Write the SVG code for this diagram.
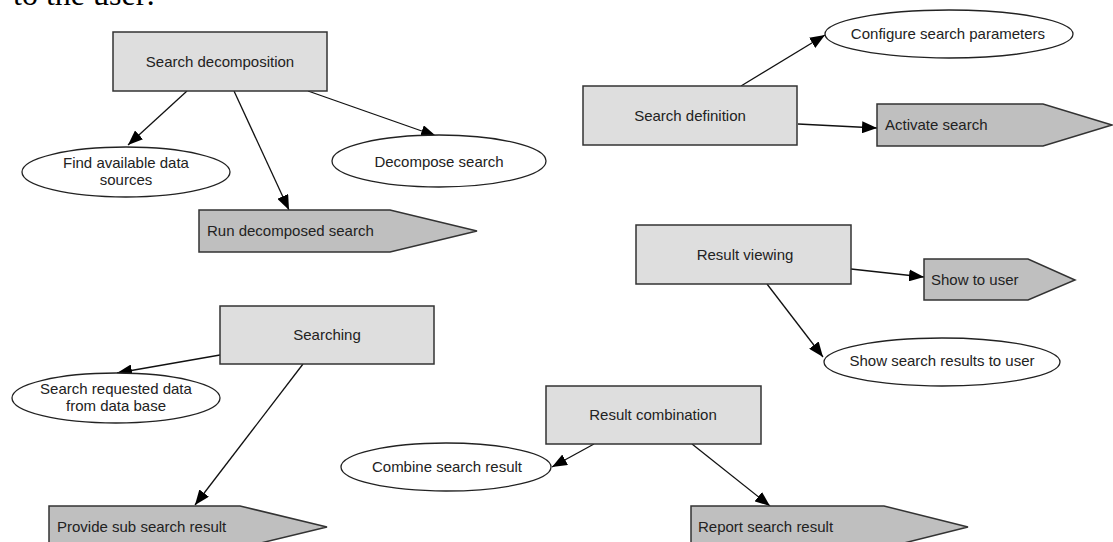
<svg xmlns="http://www.w3.org/2000/svg" width="1113" height="542" viewBox="0 0 1113 542">
  <style>
    .box { fill: #dedede; stroke: #333; stroke-width: 1.5; }
    .out { fill: #bfbfbf; stroke: #333; stroke-width: 1.5; }
    .ell { fill: #ffffff; stroke: #222; stroke-width: 1.3; }
    .lbl { font-family: "Liberation Sans", Arial, sans-serif; font-size: 15px; fill: #222; }
    .mid { text-anchor: middle; }
    .edge { stroke: #111; stroke-width: 1.3; fill: none; marker-end: url(#arrow); }
    .head { font-family: "Liberation Serif", "Times New Roman", serif; font-size: 32px; fill: #000; }
  </style>
  <defs>
    <marker id="arrow" markerUnits="userSpaceOnUse" markerWidth="16" markerHeight="12" refX="15" refY="6" orient="auto">
      <path d="M0,0 L15,6 L0,12 z" fill="#000"/>
    </marker>
  </defs>

  <rect width="1113" height="542" fill="#ffffff"/>

  <!-- running text of the surrounding page -->
  <text class="head" x="13" y="5">to the user:</text>

  <!-- connectors -->
  <g id="connectors">
    <line class="edge" x1="187" y1="91" x2="128" y2="145"/>
    <line class="edge" x1="234" y1="91" x2="289" y2="210"/>
    <line class="edge" x1="308" y1="91" x2="436" y2="136"/>
    <line class="edge" x1="741" y1="86" x2="825" y2="35"/>
    <line class="edge" x1="798" y1="124" x2="877" y2="128"/>
    <line class="edge" x1="851" y1="269" x2="924" y2="277"/>
    <line class="edge" x1="767" y1="284" x2="823" y2="357"/>
    <line class="edge" x1="220" y1="355" x2="117" y2="373"/>
    <line class="edge" x1="303" y1="364" x2="195" y2="505"/>
    <line class="edge" x1="594" y1="444" x2="552" y2="467"/>
    <line class="edge" x1="692" y1="444" x2="770" y2="506"/>
  </g>

  <!-- Search decomposition -->
  <g id="search-decomposition">
    <rect class="box" x="113" y="32" width="214" height="59"/>
    <text class="lbl mid" x="220" y="67">Search decomposition</text>
  </g>
  <g id="find-sources">
    <ellipse class="ell" cx="126" cy="172" rx="104" ry="25"/>
    <text class="lbl mid" x="126" y="168">Find available data</text>
    <text class="lbl mid" x="126" y="185">sources</text>
  </g>
  <g id="decompose-search">
    <ellipse class="ell" cx="439" cy="161" rx="107" ry="26"/>
    <text class="lbl mid" x="439" y="167">Decompose search</text>
  </g>
  <g id="run-decomposed">
    <polygon class="out" points="199,210 390,210 477,231 390,252 199,252"/>
    <text class="lbl" x="207" y="236">Run decomposed search</text>
  </g>

  <!-- Search definition -->
  <g id="search-definition">
    <rect class="box" x="583" y="86" width="214" height="59"/>
    <text class="lbl mid" x="690" y="121">Search definition</text>
  </g>
  <g id="configure-params">
    <ellipse class="ell" cx="949" cy="34" rx="124" ry="24"/>
    <text class="lbl mid" x="948" y="39">Configure search parameters</text>
  </g>
  <g id="activate-search">
    <polygon class="out" points="877,104 1043,104 1112,125 1043,146 877,146"/>
    <text class="lbl" x="885" y="130">Activate search</text>
  </g>

  <!-- Result viewing -->
  <g id="result-viewing">
    <rect class="box" x="636" y="225" width="215" height="59"/>
    <text class="lbl mid" x="745" y="260">Result viewing</text>
  </g>
  <g id="show-to-user">
    <polygon class="out" points="924,259 1028,259 1075,280 1028,300 924,300"/>
    <text class="lbl" x="931" y="285">Show to user</text>
  </g>
  <g id="show-results">
    <ellipse class="ell" cx="942" cy="362" rx="118" ry="24"/>
    <text class="lbl mid" x="942" y="366">Show search results to user</text>
  </g>

  <!-- Searching -->
  <g id="searching">
    <rect class="box" x="220" y="306" width="214" height="58"/>
    <text class="lbl mid" x="327" y="340">Searching</text>
  </g>
  <g id="search-requested">
    <ellipse class="ell" cx="116" cy="398" rx="104" ry="25"/>
    <text class="lbl mid" x="116" y="394">Search requested data</text>
    <text class="lbl mid" x="116" y="411">from data base</text>
  </g>
  <g id="provide-sub">
    <polygon class="out" points="49,506 240,506 327,527 240,548 49,548"/>
    <text class="lbl" x="57" y="532">Provide sub search result</text>
  </g>

  <!-- Result combination -->
  <g id="result-combination">
    <rect class="box" x="546" y="386" width="215" height="58"/>
    <text class="lbl mid" x="653" y="420">Result combination</text>
  </g>
  <g id="combine-result">
    <ellipse class="ell" cx="446" cy="467" rx="105" ry="24"/>
    <text class="lbl mid" x="447" y="472">Combine search result</text>
  </g>
  <g id="report-result">
    <polygon class="out" points="691,506 884,506 968,527 884,548 691,548"/>
    <text class="lbl" x="698" y="532">Report search result</text>
  </g>
</svg>
